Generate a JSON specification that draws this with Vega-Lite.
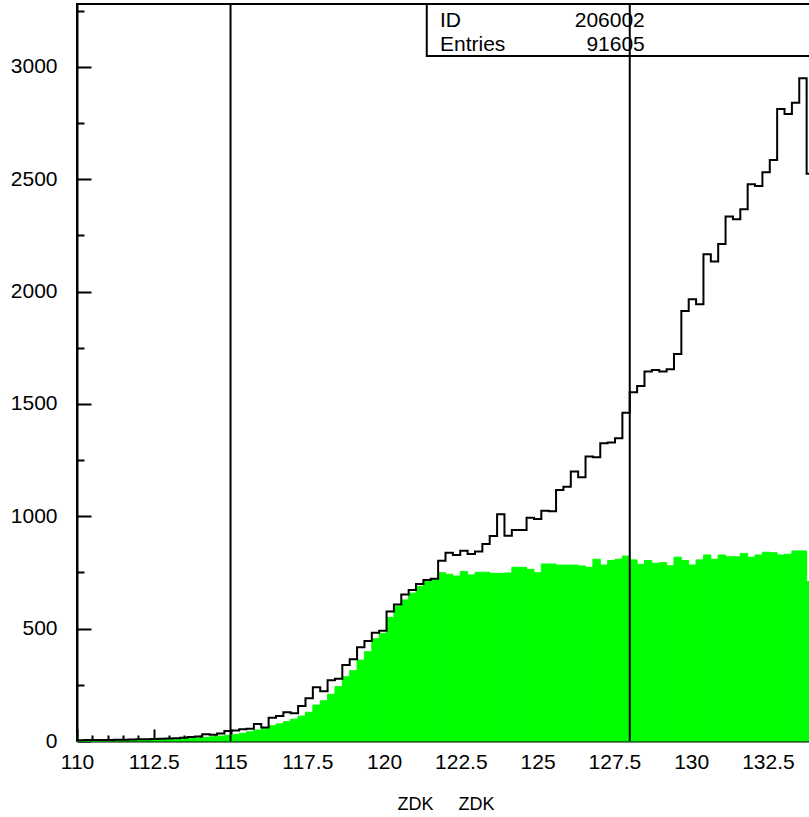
{
  "$schema": "https://vega.github.io/schema/vega-lite/v6.json",
  "autosize": {"type": "none"},
  "padding": {"left": 77, "top": 4, "right": -5, "bottom": 76},
  "width": 737,
  "height": 737,
  "background": "white",
  "config": {
    "view": {"stroke": "black", "strokeWidth": 2},
    "font": "Liberation Sans",
    "axis": {"grid": false, "domainColor": "black", "domainWidth": 2, "tickColor": "black", "tickWidth": 2, "labelColor": "black", "titleColor": "black"}
  },
  "resolve": {"axis": {"x": "independent", "y": "independent"}},
  "datasets": {
    "hist": [
      {"lo": 110, "hi": 110.24, "all": 3, "cut": 1},
      {"lo": 110.24, "hi": 110.48, "all": 4, "cut": 1},
      {"lo": 110.48, "hi": 110.72, "all": 4, "cut": 1},
      {"lo": 110.72, "hi": 110.96, "all": 5, "cut": 2},
      {"lo": 110.96, "hi": 111.2, "all": 5, "cut": 2},
      {"lo": 111.2, "hi": 111.44, "all": 6, "cut": 2},
      {"lo": 111.44, "hi": 111.68, "all": 6, "cut": 3},
      {"lo": 111.68, "hi": 111.92, "all": 7, "cut": 3},
      {"lo": 111.92, "hi": 112.16, "all": 8, "cut": 4},
      {"lo": 112.16, "hi": 112.4, "all": 8, "cut": 4},
      {"lo": 112.4, "hi": 112.64, "all": 9, "cut": 5},
      {"lo": 112.64, "hi": 112.88, "all": 10, "cut": 6},
      {"lo": 112.88, "hi": 113.12, "all": 11, "cut": 7},
      {"lo": 113.12, "hi": 113.36, "all": 12, "cut": 8},
      {"lo": 113.36, "hi": 113.6, "all": 15, "cut": 9},
      {"lo": 113.6, "hi": 113.84, "all": 18, "cut": 11},
      {"lo": 113.84, "hi": 114.08, "all": 20, "cut": 13},
      {"lo": 114.08, "hi": 114.32, "all": 30, "cut": 16},
      {"lo": 114.32, "hi": 114.56, "all": 28, "cut": 19},
      {"lo": 114.56, "hi": 114.8, "all": 33, "cut": 22},
      {"lo": 114.8, "hi": 115.04, "all": 44, "cut": 25},
      {"lo": 115.04, "hi": 115.28, "all": 47, "cut": 29},
      {"lo": 115.28, "hi": 115.52, "all": 52, "cut": 34},
      {"lo": 115.52, "hi": 115.76, "all": 55, "cut": 41},
      {"lo": 115.76, "hi": 116, "all": 76, "cut": 49},
      {"lo": 116, "hi": 116.24, "all": 60, "cut": 56},
      {"lo": 116.24, "hi": 116.48, "all": 104, "cut": 68},
      {"lo": 116.48, "hi": 116.72, "all": 111, "cut": 76},
      {"lo": 116.72, "hi": 116.96, "all": 128, "cut": 86},
      {"lo": 116.96, "hi": 117.2, "all": 123, "cut": 97},
      {"lo": 117.2, "hi": 117.44, "all": 156, "cut": 111},
      {"lo": 117.44, "hi": 117.68, "all": 190, "cut": 128},
      {"lo": 117.68, "hi": 117.92, "all": 239, "cut": 160},
      {"lo": 117.92, "hi": 118.16, "all": 221, "cut": 179},
      {"lo": 118.16, "hi": 118.4, "all": 270, "cut": 208},
      {"lo": 118.4, "hi": 118.64, "all": 277, "cut": 242},
      {"lo": 118.64, "hi": 118.88, "all": 338, "cut": 286},
      {"lo": 118.88, "hi": 119.12, "all": 364, "cut": 313},
      {"lo": 119.12, "hi": 119.36, "all": 417, "cut": 360},
      {"lo": 119.36, "hi": 119.6, "all": 445, "cut": 397},
      {"lo": 119.6, "hi": 119.84, "all": 482, "cut": 455},
      {"lo": 119.84, "hi": 120.08, "all": 491, "cut": 479},
      {"lo": 120.08, "hi": 120.32, "all": 576, "cut": 550},
      {"lo": 120.32, "hi": 120.56, "all": 607, "cut": 600},
      {"lo": 120.56, "hi": 120.8, "all": 652, "cut": 628},
      {"lo": 120.8, "hi": 121.04, "all": 672, "cut": 658},
      {"lo": 121.04, "hi": 121.28, "all": 699, "cut": 688},
      {"lo": 121.28, "hi": 121.52, "all": 716, "cut": 710},
      {"lo": 121.52, "hi": 121.76, "all": 722, "cut": 720},
      {"lo": 121.76, "hi": 122, "all": 802, "cut": 749},
      {"lo": 122, "hi": 122.24, "all": 838, "cut": 742},
      {"lo": 122.24, "hi": 122.48, "all": 828, "cut": 734},
      {"lo": 122.48, "hi": 122.72, "all": 847, "cut": 754},
      {"lo": 122.72, "hi": 122.96, "all": 832, "cut": 739},
      {"lo": 122.96, "hi": 123.2, "all": 843, "cut": 751},
      {"lo": 123.2, "hi": 123.44, "all": 877, "cut": 751},
      {"lo": 123.44, "hi": 123.68, "all": 912, "cut": 746},
      {"lo": 123.68, "hi": 123.92, "all": 1009, "cut": 746},
      {"lo": 123.92, "hi": 124.16, "all": 914, "cut": 748},
      {"lo": 124.16, "hi": 124.4, "all": 939, "cut": 773},
      {"lo": 124.4, "hi": 124.64, "all": 939, "cut": 773},
      {"lo": 124.64, "hi": 124.88, "all": 994, "cut": 764},
      {"lo": 124.88, "hi": 125.12, "all": 988, "cut": 749},
      {"lo": 125.12, "hi": 125.36, "all": 1025, "cut": 788},
      {"lo": 125.36, "hi": 125.6, "all": 1022, "cut": 788},
      {"lo": 125.6, "hi": 125.84, "all": 1117, "cut": 783},
      {"lo": 125.84, "hi": 126.08, "all": 1132, "cut": 783},
      {"lo": 126.08, "hi": 126.32, "all": 1199, "cut": 783},
      {"lo": 126.32, "hi": 126.56, "all": 1174, "cut": 779},
      {"lo": 126.56, "hi": 126.8, "all": 1266, "cut": 773},
      {"lo": 126.8, "hi": 127.04, "all": 1263, "cut": 809},
      {"lo": 127.04, "hi": 127.28, "all": 1325, "cut": 783},
      {"lo": 127.28, "hi": 127.52, "all": 1329, "cut": 803},
      {"lo": 127.52, "hi": 127.76, "all": 1347, "cut": 809},
      {"lo": 127.76, "hi": 128, "all": 1461, "cut": 823},
      {"lo": 128, "hi": 128.24, "all": 1552, "cut": 806},
      {"lo": 128.24, "hi": 128.48, "all": 1580, "cut": 786},
      {"lo": 128.48, "hi": 128.72, "all": 1644, "cut": 803},
      {"lo": 128.72, "hi": 128.96, "all": 1651, "cut": 791},
      {"lo": 128.96, "hi": 129.2, "all": 1644, "cut": 794},
      {"lo": 129.2, "hi": 129.44, "all": 1654, "cut": 780},
      {"lo": 129.44, "hi": 129.68, "all": 1722, "cut": 818},
      {"lo": 129.68, "hi": 129.92, "all": 1914, "cut": 803},
      {"lo": 129.92, "hi": 130.16, "all": 1966, "cut": 783},
      {"lo": 130.16, "hi": 130.4, "all": 1944, "cut": 806},
      {"lo": 130.4, "hi": 130.64, "all": 2166, "cut": 828},
      {"lo": 130.64, "hi": 130.88, "all": 2134, "cut": 809},
      {"lo": 130.88, "hi": 131.12, "all": 2212, "cut": 828},
      {"lo": 131.12, "hi": 131.36, "all": 2334, "cut": 820},
      {"lo": 131.36, "hi": 131.6, "all": 2322, "cut": 820},
      {"lo": 131.6, "hi": 131.84, "all": 2366, "cut": 835},
      {"lo": 131.84, "hi": 132.08, "all": 2478, "cut": 818},
      {"lo": 132.08, "hi": 132.32, "all": 2470, "cut": 828},
      {"lo": 132.32, "hi": 132.56, "all": 2531, "cut": 840},
      {"lo": 132.56, "hi": 132.8, "all": 2586, "cut": 838},
      {"lo": 132.8, "hi": 133.04, "all": 2813, "cut": 828},
      {"lo": 133.04, "hi": 133.28, "all": 2791, "cut": 831},
      {"lo": 133.28, "hi": 133.52, "all": 2841, "cut": 846},
      {"lo": 133.52, "hi": 133.76, "all": 2950, "cut": 846},
      {"lo": 133.76, "hi": 134, "all": 2524, "cut": 710}
    ],
    "cuts": [{"zdk": 115}, {"zdk": 128}],
    "stats": [{"name": "ID", "value": "206002"}, {"name": "Entries", "value": "91605"}]
  },
  "layer": [
    {
      "data": {"name": "hist"},
      "mark": {"type": "rect", "color": "#00ff00", "stroke": "#00ff00", "strokeWidth": 1},
      "encoding": {
        "x": {
          "field": "lo", "type": "quantitative",
          "scale": {"domain": [110, 134], "nice": false, "zero": false},
          "axis": {
            "orient": "bottom",
            "values": [110, 112.5, 115, 117.5, 120, 122.5, 125, 127.5, 130, 132.5],
            "labelExpr": "datum.value + ''",
            "tickSize": -12,
            "labelFlush": false,
            "labelOverlap": false,
            "labelBaseline": "top",
            "labelPadding": 22,
            "labelFont": "Liberation Sans",
            "labelFontSize": 21,
            "title": "ZDK\u00a0\u00a0\u00a0\u00a0\u00a0ZDK",
            "titleFont": "Liberation Sans",
            "titleFontSize": 18,
            "titleFontWeight": "normal",
            "titlePadding": 23
          }
        },
        "x2": {"field": "hi"},
        "y": {
          "field": "cut", "type": "quantitative",
          "scale": {"domain": [0, 3280], "nice": false, "zero": true},
          "axis": {
            "orient": "left",
            "values": [0, 500, 1000, 1500, 2000, 2500, 3000],
            "labelExpr": "datum.value + ''",
            "tickSize": -14,
            "labelOverlap": false,
            "labelPadding": 34,
            "labelFont": "Liberation Sans",
            "labelFontSize": 21,
            "title": null
          }
        },
        "y2": {"datum": 0}
      }
    },
    {
      "data": {"name": "hist"},
      "transform": [{"fold": ["lo", "hi"], "as": ["edge_kind", "edge"]}],
      "mark": {"type": "line", "color": "black", "strokeWidth": 2},
      "encoding": {
        "x": {
          "field": "edge", "type": "quantitative",
          "axis": {
            "orient": "bottom",
            "values": [110.5,111,111.5,112,113,113.5,114,114.5,115.5,116,116.5,117,118,118.5,119,119.5,120.5,121,121.5,122,123,123.5,124,124.5,125.5,126,126.5,127,128,128.5,129,129.5,130.5,131,131.5,132,133,133.5],
            "tickSize": -6,
            "labels": false,
            "domain": false,
            "title": null
          }
        },
        "y": {
          "field": "all", "type": "quantitative",
          "axis": {
            "orient": "left",
            "values": [250, 750, 1250, 1750, 2250, 2750, 3250],
            "tickSize": -7,
            "labels": false,
            "domain": false,
            "title": null
          }
        },
        "order": [
          {"field": "lo", "type": "quantitative"},
          {"field": "edge_kind", "type": "nominal", "sort": "descending"}
        ]
      }
    },
    {
      "data": {"values": [{"box": "stats"}]},
      "mark": {"type": "rect", "fill": "white", "stroke": "black", "strokeWidth": 2},
      "encoding": {
        "x": {"datum": 121.39, "type": "quantitative", "axis": null},
        "x2": {"datum": 134},
        "y": {"datum": 3049, "type": "quantitative", "axis": null},
        "y2": {"datum": 3280}
      }
    },
    {
      "data": {"name": "cuts"},
      "mark": {"type": "rule", "color": "black", "strokeWidth": 2},
      "encoding": {"x": {"field": "zdk", "type": "quantitative", "axis": null}}
    },
    {
      "data": {"name": "stats"},
      "transform": [{"filter": "datum.name === 'ID'"}],
      "mark": {"type": "text", "align": "left", "baseline": "alphabetic", "fontSize": 21, "font": "Liberation Sans", "color": "black"},
      "encoding": {
        "text": {"field": "name"},
        "x": {"datum": 121.82, "type": "quantitative", "axis": null},
        "y": {"datum": 3179, "type": "quantitative", "axis": null}
      }
    },
    {
      "data": {"name": "stats"},
      "transform": [{"filter": "datum.name === 'ID'"}],
      "mark": {"type": "text", "align": "right", "baseline": "alphabetic", "fontSize": 21, "font": "Liberation Sans", "color": "black"},
      "encoding": {
        "text": {"field": "value"},
        "x": {"datum": 128.49, "type": "quantitative", "axis": null},
        "y": {"datum": 3179, "type": "quantitative", "axis": null}
      }
    },
    {
      "data": {"name": "stats"},
      "transform": [{"filter": "datum.name === 'Entries'"}],
      "mark": {"type": "text", "align": "left", "baseline": "alphabetic", "fontSize": 21, "font": "Liberation Sans", "color": "black"},
      "encoding": {
        "text": {"field": "name"},
        "x": {"datum": 121.82, "type": "quantitative", "axis": null},
        "y": {"datum": 3072, "type": "quantitative", "axis": null}
      }
    },
    {
      "data": {"name": "stats"},
      "transform": [{"filter": "datum.name === 'Entries'"}],
      "mark": {"type": "text", "align": "right", "baseline": "alphabetic", "fontSize": 21, "font": "Liberation Sans", "color": "black"},
      "encoding": {
        "text": {"field": "value"},
        "x": {"datum": 128.49, "type": "quantitative", "axis": null},
        "y": {"datum": 3072, "type": "quantitative", "axis": null}
      }
    }
  ]
}
